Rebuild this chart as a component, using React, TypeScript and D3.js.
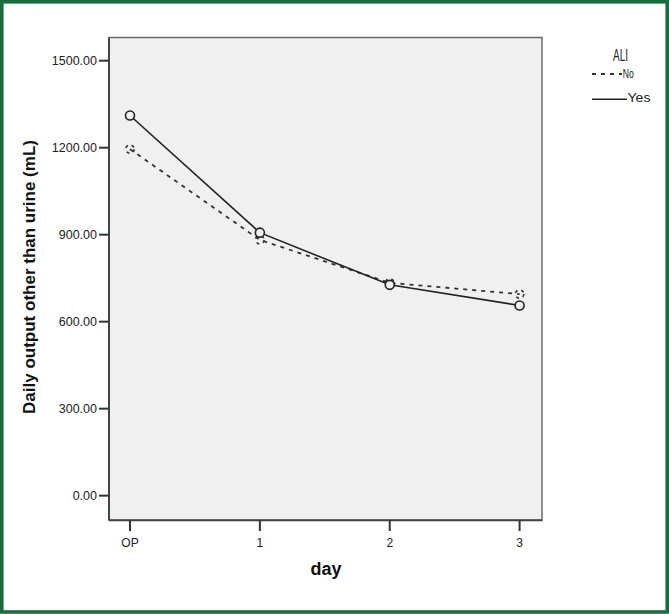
import React from "react";
import * as d3 from "d3";

const days = ["OP", "1", "2", "3"];
const yesValues = [1311, 907, 727, 656];
const noValues = [1195, 882, 734, 695];
const yTicks = [0, 300, 600, 900, 1200, 1500];

const W = 669;
const H = 614;
const plotLeft = 109;
const plotRight = 542;
const plotTop = 37.5;
const plotBottom = 520.3;

export default function App() {
  const x = d3.scalePoint<string>().domain(days).range([130, 519.6]);
  const y = d3.scaleLinear().domain([-85, 1580]).range([plotBottom, plotTop]);
  const line = d3
    .line<number>()
    .x((_, i) => x(days[i]) as number)
    .y((d) => y(d));
  const font = "'Liberation Sans', Arial, sans-serif";

  return (
    <svg
      width={W}
      height={H}
      style={{ position: "absolute", left: 0, top: 0, background: "#fff" }}
      fontFamily={font}
    >
      <rect x={0} y={0} width={W} height={H} fill="#fff" />
      <rect
        x={1.8}
        y={1.8}
        width={W - 3.6}
        height={H - 3.8}
        fill="none"
        stroke="#1a6d3d"
        strokeWidth={3.6}
      />
      {/* plot frame */}
      <rect
        x={plotLeft}
        y={plotTop}
        width={plotRight - plotLeft}
        height={plotBottom - plotTop}
        fill="#f0f0f0"
        stroke="#6a6a6a"
        strokeWidth={1.5}
      />
      <line x1={plotLeft} x2={plotLeft} y1={plotTop} y2={plotBottom} stroke="#444" strokeWidth={2} />
      <line x1={plotLeft} x2={plotRight} y1={plotBottom} y2={plotBottom} stroke="#444" strokeWidth={2} />
      {/* y ticks */}
      {yTicks.map((t) => (
        <g key={t}>
          <line x1={99} x2={plotLeft} y1={y(t)} y2={y(t)} stroke="#333" strokeWidth={2} />
          <text x={97} y={y(t)} dy="0.35em" textAnchor="end" fontSize={12.5} fill="#222">
            {d3.format(".2f")(t)}
          </text>
        </g>
      ))}
      {/* x ticks */}
      {days.map((d) => (
        <g key={d}>
          <line x1={x(d)} x2={x(d)} y1={plotBottom} y2={531} stroke="#333" strokeWidth={2} />
          <text x={x(d)} y={547} textAnchor="middle" fontSize={12} fill="#222">
            {d}
          </text>
        </g>
      ))}
      <text x={326} y={575} textAnchor="middle" fontSize={18} fontWeight="bold" fill="#111">
        day
      </text>
      <text
        transform="translate(35,277) rotate(-90)"
        textAnchor="middle"
        fontSize={17}
        fontWeight="bold"
        fill="#111"
      >
        Daily output other than urine (mL)
      </text>
      {/* No series */}
      <path d={line(noValues) || ""} fill="none" stroke="#333" strokeWidth={1.8} strokeDasharray="4,5" />
      {noValues.map((v, i) => (
        <circle
          key={"n" + i}
          cx={x(days[i])}
          cy={y(v)}
          r={4.2}
          fill="none"
          stroke="#333"
          strokeWidth={1.6}
          strokeDasharray="3,4"
        />
      ))}
      {/* Yes series */}
      <path d={line(yesValues) || ""} fill="none" stroke="#222" strokeWidth={1.6} />
      {yesValues.map((v, i) => (
        <circle
          key={"y" + i}
          cx={x(days[i])}
          cy={y(v)}
          r={4.5}
          fill="#f0f0f0"
          stroke="#222"
          strokeWidth={1.6}
        />
      ))}
      {/* legend */}
      <text x={620.5} y={60.5} textAnchor="middle" fontSize={16} fill="#222" textLength={15} lengthAdjust="spacingAndGlyphs">
        ALI
      </text>
      <line x1={592} x2={622} y1={74} y2={74} stroke="#333" strokeWidth={1.8} strokeDasharray="4,5" />
      <text x={622.7} y={78} fontSize={12} fill="#222" textLength={11} lengthAdjust="spacingAndGlyphs">
        No
      </text>
      <line x1={592} x2={627} y1={99.3} y2={99.3} stroke="#222" strokeWidth={1.6} />
      <text x={627.5} y={101.8} fontSize={13.5} fill="#222" textLength={23} lengthAdjust="spacingAndGlyphs">
        Yes
      </text>
    </svg>
  );
}
